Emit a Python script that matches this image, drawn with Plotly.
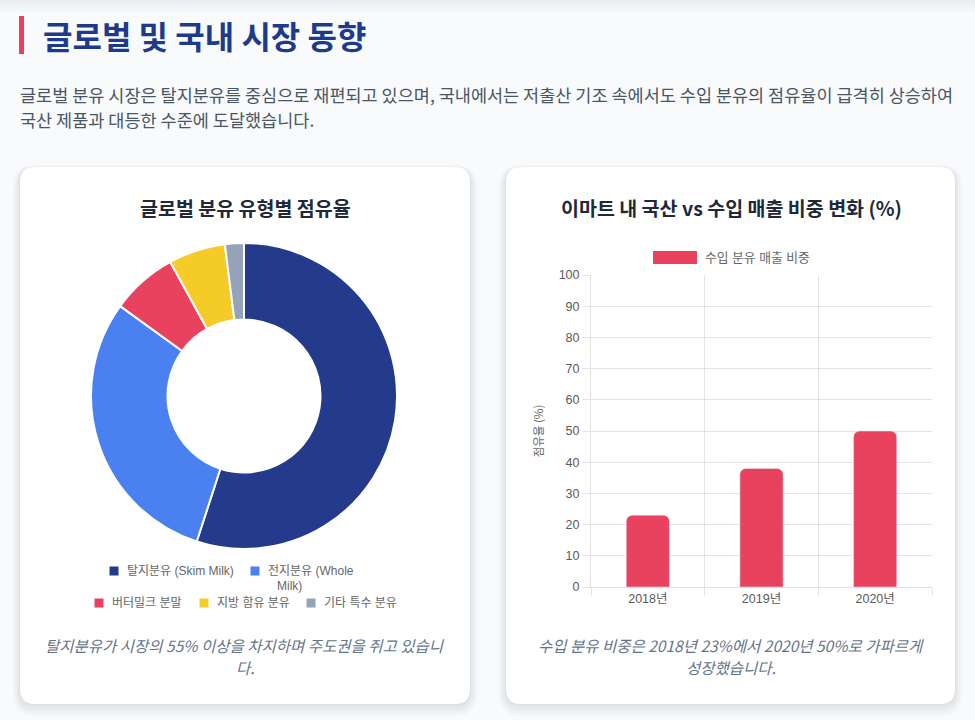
# 글로벌 및 국내 분유 시장 동향: donut + bar chart on one page

import plotly.graph_objects as go

W, H = 975, 720

# %%
# data
milk_types = [
    "탈지분유 (Skim Milk)",
    "전지분유 (Whole Milk)",
    "버터밀크 분말",
    "지방 함유 분유",
    "기타 특수 분유",
]
milk_share = [55, 30, 7, 6, 2]
milk_colors = ["#243a8a", "#4a80f0", "#e8425f", "#f5cb28", "#94a3b8"]

years = ["2018년", "2019년", "2020년"]
import_share = [23, 38, 50]
import_label = "수입 분유 매출 비중"
y_ticks = list(range(0, 101, 10))

page_title = "글로벌 및 국내 시장 동향"
intro_lines = [
    "글로벌 분유 시장은 탈지분유를 중심으로 재편되고 있으며, 국내에서는 저출산 기조 속에서도 수입 분유의 점유율이 급격히 상승하여",
    "국산 제품과 대등한 수준에 도달했습니다.",
]
left_title = "글로벌 분유 유형별 점유율"
right_title = "이마트 내 국산 vs 수입 매출 비중 변화 (%)"
left_caption = ["탈지분유가 시장의 55% 이상을 차지하며 주도권을 쥐고 있습니", "다."]
right_caption = ["수입 분유 비중은 2018년 23%에서 2020년 50%로 가파르게", "성장했습니다."]

RED = "#e8425f"
NAVY = "#1e3a8a"
KR = "Noto Sans CJK KR"
LATIN = "Liberation Sans, Noto Sans CJK KR"


# %%
# helpers: pixel -> paper coordinates
def px(x):
    return x / W


def py(y):
    return 1 - y / H


def rounded_rect(x0, y0, x1, y1, r):
    return (
        f"M {px(x0 + r)},{py(y0)} L {px(x1 - r)},{py(y0)} "
        f"Q {px(x1)},{py(y0)} {px(x1)},{py(y0 + r)} L {px(x1)},{py(y1 - r)} "
        f"Q {px(x1)},{py(y1)} {px(x1 - r)},{py(y1)} L {px(x0 + r)},{py(y1)} "
        f"Q {px(x0)},{py(y1)} {px(x0)},{py(y1 - r)} L {px(x0)},{py(y0 + r)} "
        f"Q {px(x0)},{py(y0)} {px(x0 + r)},{py(y0)} Z"
    )


shapes = []
annotations = []

# faint shadow at the top edge
for h in [3, 6, 9, 12]:
    shapes.append(
        dict(type="rect", xref="paper", yref="paper", x0=0, x1=1, y0=py(h), y1=1,
             fillcolor="rgba(0,0,0,0.012)", line_width=0, layer="below")
    )

# cards with soft shadows
cards = [(20, 167, 470, 704), (506, 167, 955, 704)]
for x0, y0, x1, y1 in cards:
    for grow, dy, alpha in [(7, 5, 0.018), (5, 4, 0.022), (3, 3, 0.03), (1, 1, 0.04)]:
        shapes.append(
            dict(type="path", xref="paper", yref="paper",
                 path=rounded_rect(x0 - grow, y0 - grow + dy, x1 + grow, y1 + grow + dy, 15 + grow),
                 fillcolor=f"rgba(15,23,42,{alpha})", line_width=0, layer="below")
        )
    shapes.append(
        dict(type="path", xref="paper", yref="paper", path=rounded_rect(x0, y0, x1, y1, 15),
             fillcolor="#ffffff", line_width=0, layer="below")
    )

# header
shapes.append(
    dict(type="rect", xref="paper", yref="paper", x0=px(19), x1=px(24), y0=py(54), y1=py(16),
         fillcolor=RED, line_width=0)
)
annotations.append(
    dict(text=f"<b>{page_title}</b>", x=px(41), y=py(35), xref="paper", yref="paper",
         xanchor="left", yanchor="middle", showarrow=False,
         font=dict(family=KR, size=32, color=NAVY, weight=900))
)
for line, y in zip(intro_lines, [95, 120]):
    annotations.append(
        dict(text=line, x=px(18), y=py(y), xref="paper", yref="paper",
             xanchor="left", yanchor="middle", showarrow=False,
             font=dict(family=KR, size=17.5, color="#4b5563"))
    )

# card titles
for title, cx in [(left_title, 245), (right_title, 731)]:
    annotations.append(
        dict(text=f"<b>{title}</b>", x=px(cx), y=py(208), xref="paper", yref="paper",
             xanchor="center", yanchor="middle", showarrow=False,
             font=dict(family=KR, size=19.5, color="#1f2937"))
    )

# captions
for lines, cx in [(left_caption, 245), (right_caption, 731)]:
    for line, y in zip(lines, [645, 667]):
        annotations.append(
            dict(text=f"<i>{line}</i>", x=px(cx), y=py(y), xref="paper", yref="paper",
                 xanchor="center", yanchor="middle", showarrow=False,
                 font=dict(family=KR, size=15.5, color="#64748b"))
        )

# donut legend (laid out like the original: 2 items, then 3; the long label wraps)
legend_wrap = {"전지분유 (Whole Milk)": ["전지분유 (Whole", "Milk)"]}
legend_pos = [(109, 571), (250, 571), (94, 603), (199, 603), (306, 603)]
for name, color, (lx, ly) in zip(milk_types, milk_colors, legend_pos):
    shapes.append(
        dict(type="rect", xref="paper", yref="paper", x0=px(lx), x1=px(lx + 10),
             y0=py(ly + 5), y1=py(ly - 5), fillcolor=color, line=dict(color="white", width=1))
    )
    for i, part in enumerate(legend_wrap.get(name, [name])):
        annotations.append(
            dict(text=part, x=px(lx + 17 + 9 * i), y=py(ly + 15 * i),
                 xref="paper", yref="paper", xanchor="left", yanchor="middle",
                 borderpad=0, showarrow=False,
                 font=dict(family=LATIN, size=12, color="#666666"))
        )

# bar legend
shapes.append(
    dict(type="rect", xref="paper", yref="paper", x0=px(653), x1=px(697),
         y0=py(264), y1=py(251), fillcolor=RED, line_width=0)
)
annotations.append(
    dict(text=import_label, x=px(703), y=py(257.5), xref="paper", yref="paper",
         xanchor="left", yanchor="middle", showarrow=False,
         font=dict(family=LATIN, size=12.8, color="#666666"))
)

# %%
# figure
fig = go.Figure()

fig.add_trace(
    go.Pie(
        labels=milk_types,
        values=milk_share,
        hole=0.5,
        sort=False,
        direction="clockwise",
        rotation=0,
        marker=dict(colors=milk_colors, line=dict(color="white", width=2)),
        textinfo="none",
        showlegend=False,
        domain=dict(x=[px(91), px(397)], y=[py(549), py(243)]),
    )
)

fig.add_trace(
    go.Bar(
        x=years,
        y=import_share,
        name=import_label,
        marker=dict(color=RED, cornerradius=6),
        showlegend=False,
    )
)

fig.update_xaxes(
    domain=[px(591), px(932)],
    type="category",
    tickson="boundaries",
    ticks="outside",
    ticklen=8,
    tickcolor="rgba(0,0,0,0.1)",
    showgrid=True,
    gridcolor="rgba(0,0,0,0.1)",
    showline=True,
    linecolor="rgba(0,0,0,0.12)",
    tickfont=dict(family=LATIN, size=12.5, color="#5a5a5a"),
    automargin=False,
)
fig.update_yaxes(
    domain=[py(587), py(275)],
    range=[0, 100],
    tickvals=y_ticks,
    ticks="outside",
    ticklen=8,
    tickcolor="rgba(0,0,0,0.1)",
    showgrid=True,
    gridcolor="rgba(0,0,0,0.1)",
    zeroline=False,
    showline=True,
    linecolor="rgba(0,0,0,0.12)",
    tickfont=dict(family=LATIN, size=12.5, color="#5a5a5a"),
    title=dict(text="점유율 (%)", font=dict(family=KR, size=11.5, color="#666666"), standoff=12),
    automargin=False,
)

fig.update_layout(
    width=W,
    height=H,
    margin=dict(l=0, r=0, t=0, b=0, pad=0),
    paper_bgcolor="#f8fafc",
    plot_bgcolor="rgba(0,0,0,0)",
    bargap=0.62,
    font=dict(family=KR),
    shapes=shapes,
    annotations=annotations,
    showlegend=False,
)

# drop the default 8px body margin so the figure sits flush in the window
fig.write_html(
    "out.html",
    config={"displayModeBar": False},
    post_script="document.body.style.margin = '0';",
)
